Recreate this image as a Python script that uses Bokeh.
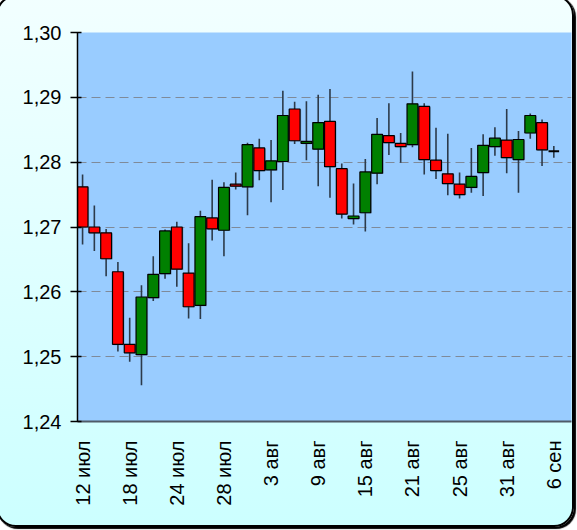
import math
from bokeh.plotting import figure
from bokeh.models import Range1d, FixedTicker, CustomJSTickFormatter
from bokeh.embed import file_html
from bokeh.resources import INLINE

# ---- data ----
opens = [1.2762, 1.2700, 1.2691, 1.2631, 1.2519, 1.2503, 1.2591, 1.2628, 1.2700, 1.2629,
         1.2579, 1.2714, 1.2695, 1.2766, 1.2762, 1.2822, 1.2788, 1.2801, 1.2882, 1.2829,
         1.2820, 1.2863, 1.2790, 1.2713, 1.2722, 1.2783, 1.2841, 1.2829, 1.2827, 1.2886,
         1.2803, 1.2782, 1.2766, 1.2761, 1.2784, 1.2824, 1.2834, 1.2804, 1.2845, 1.2861,
         1.2817]
highs = [1.2781, 1.2733, 1.2697, 1.2646, 1.2560, 1.2610, 1.2655, 1.2696, 1.2708, 1.2675,
         1.2725, 1.2773, 1.2769, 1.2784, 1.2830, 1.2836, 1.2834, 1.2910, 1.2893, 1.2894,
         1.2904, 1.2913, 1.2798, 1.2767, 1.2805, 1.2868, 1.2891, 1.2845, 1.2940, 1.2891,
         1.2853, 1.2844, 1.2784, 1.2822, 1.2843, 1.2854, 1.2882, 1.2848, 1.2875, 1.2866,
         1.2825]
lows = [1.2673, 1.2663, 1.2624, 1.2508, 1.2492, 1.2456, 1.2586, 1.2620, 1.2608, 1.2559,
        1.2558, 1.2679, 1.2655, 1.2758, 1.2718, 1.2772, 1.2738, 1.2757, 1.2828, 1.2803,
        1.2763, 1.2745, 1.2713, 1.2704, 1.2693, 1.2766, 1.2811, 1.2799, 1.2823, 1.2781,
        1.2774, 1.2749, 1.2744, 1.2753, 1.2748, 1.2810, 1.2783, 1.2753, 1.2836, 1.2794,
        1.2807]
closes = [1.2700, 1.2691, 1.2651, 1.2519, 1.2506, 1.2592, 1.2627, 1.2694, 1.2635, 1.2577,
          1.2716, 1.2697, 1.2761, 1.2763, 1.2827, 1.2787, 1.2802, 1.2872, 1.2833, 1.2832,
          1.2861, 1.2793, 1.2720, 1.2717, 1.2785, 1.2843, 1.2830, 1.2824, 1.2890, 1.2804,
          1.2787, 1.2767, 1.2750, 1.2778, 1.2826, 1.2837, 1.2807, 1.2835, 1.2872, 1.2819,
          1.2817]
tick_positions = [0, 4, 8, 12, 16, 20, 24, 28, 32, 36, 40]
tick_labels = ["12 июл", "18 июл", "24 июл", "28 июл", "3 авг", "9 авг",
               "15 авг", "21 авг", "25 авг", "31 авг", "6 сен"]
y_ticks = [1.24, 1.25, 1.26, 1.27, 1.28, 1.29, 1.30]

FONT = "Liberation Sans"

xs = list(range(len(opens)))
body_x, body_top, body_bot, body_col = [], [], [], []
doji_x, doji_y = [], []
for i, (o, c) in enumerate(zip(opens, closes)):
    if o == c:
        doji_x.append(i)
        doji_y.append(o)
    else:
        body_x.append(i)
        body_top.append(max(o, c))
        body_bot.append(min(o, c))
        body_col.append("#ff0000" if c < o else "#008000")

p = figure(width=578, height=532, output_backend="svg", toolbar_location=None,
           x_range=Range1d(-0.43, 41.5), y_range=Range1d(1.24, 1.30),
           min_border_left=79, min_border_right=5, min_border_top=35,
           min_border_bottom=108)
p.background_fill_color = "#99ccff"
p.border_fill_color = None
p.outline_line_color = None
p.styles = {
    "border": "2px solid #000000",
    "border-radius": "20px",
    "background": "linear-gradient(to bottom, #f2ffff, #ccffff)",
    "box-shadow": "2px 2px 1px #000000",
    "margin-left": "-4px",
    "margin-top": "-5px",
}

# grid
p.xgrid.grid_line_color = None
p.ygrid.ticker = FixedTicker(ticks=y_ticks)
p.ygrid.grid_line_color = "#7f8a99"
p.ygrid.grid_line_dash = "9 5"
p.ygrid.grid_line_width = 1

# wicks
p.segment(x0=xs, y0=lows, x1=xs, y1=highs, line_color="#2c3a4a", line_width=1.6)
# body shadows
p.vbar(x=[x + 0.1 for x in body_x], width=0.92,
       top=[t - 0.00012 for t in body_top], bottom=[b - 0.00012 for b in body_bot],
       fill_color="#55708f", fill_alpha=0.45, line_color=None)
# bodies
p.vbar(x=body_x, width=0.92, top=body_top, bottom=body_bot,
       fill_color=body_col, line_color="#000000", line_width=1.2)
# doji
p.segment(x0=[x - 0.45 for x in doji_x], y0=doji_y, x1=[x + 0.45 for x in doji_x],
          y1=doji_y, line_color="#000000", line_width=2)

# axes
ya = p.yaxis[0]
ya.ticker = FixedTicker(ticks=y_ticks)
ya.formatter = CustomJSTickFormatter(code="return tick.toFixed(2).replace('.', ',');")
ya.axis_line_color = "#000000"
ya.axis_line_width = 1.5
ya.major_tick_line_color = "#000000"
ya.major_tick_line_width = 1.5
ya.major_tick_out = 7
ya.major_tick_in = 4
ya.minor_tick_line_color = None
ya.major_label_standoff = 9
ya.major_label_text_font = FONT
ya.major_label_text_font_size = "20px"
ya.major_label_text_color = "#000000"

xa = p.xaxis[0]
xa.ticker = FixedTicker(ticks=tick_positions)
xa.major_label_overrides = {t: l for t, l in zip(tick_positions, tick_labels)}
xa.major_label_orientation = math.pi / 2
xa.axis_line_color = "#4f5b68"
xa.axis_line_width = 2
xa.major_tick_line_color = None
xa.minor_tick_line_color = None
xa.major_label_standoff = 13
xa.major_label_text_font = FONT
xa.major_label_text_font_size = "20px"
xa.major_label_text_color = "#000000"

open("out.html", "w").write(file_html(p, INLINE))
